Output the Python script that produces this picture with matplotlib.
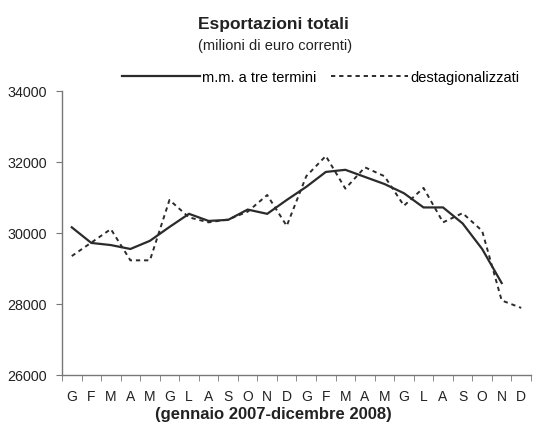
#!/usr/bin/env python3
"""Esportazioni totali: media mobile a tre termini vs serie destagionalizzata."""
import matplotlib
matplotlib.use("Agg")
import matplotlib.pyplot as plt
from matplotlib.ticker import FixedLocator, NullFormatter

months = ["G", "F", "M", "A", "M", "G", "L", "A", "S", "O", "N", "D",
          "G", "F", "M", "A", "M", "G", "L", "A", "S", "O", "N", "D"]

# destagionalizzati (gen 2007 - dic 2008)
destag = [29350, 29730, 30110, 29230, 29230, 30930, 30440, 30300, 30380, 30600, 31070, 30200,
          31600, 32170, 31250, 31850, 31600, 30770, 31270, 30300, 30560, 30060, 28100, 27890]

# media mobile a tre termini (fino a nov 2008)
mm3 = [30160, 29720, 29660, 29550, 29780, 30170, 30540, 30340, 30370, 30660, 30540, 30930,
       31300, 31720, 31780, 31580, 31380, 31120, 30720, 30720, 30270, 29550, 28590]

yticks = [26000, 28000, 30000, 32000, 34000]

plt.rcParams["font.family"] = ["Liberation Sans", "DejaVu Sans"]
ink = "#2b2b2b"
axis_col = "#777777"

fig = plt.figure(figsize=(5.33, 4.27), dpi=100)
ax = fig.add_axes([62 / 533, 1 - 376 / 427, 469 / 533, 284 / 427])

x_d = list(range(len(destag)))
x_m = list(range(len(mm3)))
ax.plot(x_m, mm3, color=ink, lw=1.6, solid_joinstyle="miter", label="m.m. a tre termini")
ax.plot(x_d, destag, color=ink, lw=1.4, linestyle=(0, (2.2, 2.0)), label="destagionalizzati")

ax.set_xlim(-0.5, len(months) - 0.5)
ax.set_ylim(yticks[0], yticks[-1])
ax.set_yticks(yticks)
ax.set_yticklabels([str(v) for v in yticks])

ax.set_xticks(range(len(months)))
ax.set_xticklabels(months)
ax.xaxis.set_minor_locator(FixedLocator([i - 0.5 for i in range(len(months) + 1)]))
ax.xaxis.set_minor_formatter(NullFormatter())
ax.tick_params(axis="x", which="major", length=0, pad=10, labelsize=10, colors="#222222")
ax.tick_params(axis="x", which="minor", length=4, direction="out", color=axis_col)
ax.tick_params(axis="y", length=4, direction="out", color=axis_col, labelsize=10.3,
               labelcolor="#222222", pad=7)

for side in ["top", "right"]:
    ax.spines[side].set_visible(False)
for side in ["left", "bottom"]:
    ax.spines[side].set_color(axis_col)
    ax.spines[side].set_linewidth(1.0)

fig.text(273 / 533, 1 - 24 / 427, "Esportazioni totali", ha="center", va="center",
         fontsize=12.5, fontweight="bold", color="#222222")
fig.text(275 / 533, 1 - 46 / 427, "(milioni di euro correnti)", ha="center", va="center",
         fontsize=10.5, color="#222222")
fig.text(273 / 533, 1 - 415 / 427, "(gennaio 2007-dicembre 2008)", ha="center", va="center",
         fontsize=12, fontweight="bold", color="#222222")

fig.legend(loc="center", bbox_to_anchor=(321 / 533, 1 - 78 / 427), ncol=2, frameon=False,
           handlelength=5.3, handletextpad=0.15, columnspacing=1.0, fontsize=10.5,
           borderpad=0, borderaxespad=0)

fig.savefig("out.png", dpi=100)
